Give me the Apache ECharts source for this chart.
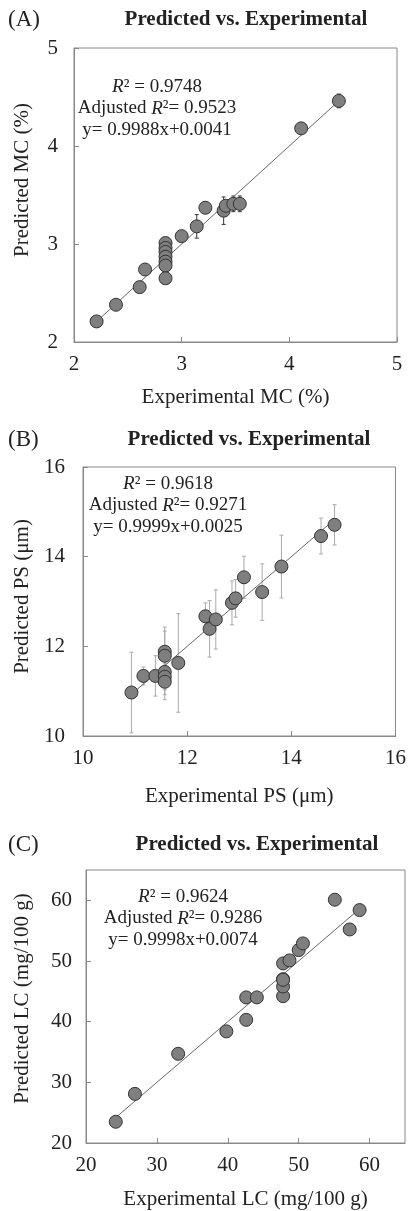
<!DOCTYPE html>
<html>
<head>
<meta charset="utf-8">
<script src="https://cdn.jsdelivr.net/npm/echarts@6/dist/echarts.min.js"></script>
<style>
  html, body { margin: 0; padding: 0; background: #fff; }
  #draw { width: 409px; height: 1211px; }
</style>
</head>
<body>
<div id="draw"></div>
<script>
// (A) moisture content
var mcExp  = [2.21, 2.39, 2.61, 2.66, 2.85, 2.85, 2.85, 2.85, 2.85, 2.85, 2.85, 3.00, 3.14, 3.22, 3.39, 3.41, 3.48, 3.54, 4.11, 4.46];
var mcPred = [2.21, 2.38, 2.56, 2.74, 3.01, 2.96, 2.92, 2.87, 2.82, 2.78, 2.65, 3.08, 3.18, 3.37, 3.34, 3.39, 3.41, 3.41, 4.18, 4.46];
var mcErr  = [0.03, 0.03, 0.02, 0.03, 0.03, 0.03, 0.03, 0.03, 0.03, 0.03, 0.03, 0.04, 0.12, 0.06, 0.14, 0.05, 0.08, 0.08, 0.06, 0.07];
var mcFit  = [[2.2, 2.2], [4.48, 4.48]];
var mcTicks = [2, 3, 4, 5];

// (B) particle size
var psExp  = [10.93, 11.16, 11.39, 11.57, 11.57, 11.57, 11.57, 11.57, 11.83, 12.35, 12.43, 12.55, 12.86, 12.93, 13.09, 13.44, 13.81, 14.57, 14.83];
var psPred = [10.97, 11.34, 11.34, 11.88, 11.79, 11.43, 11.32, 11.21, 11.63, 12.67, 12.39, 12.60, 12.97, 13.07, 13.54, 13.21, 13.78, 14.46, 14.71];
var psErr  = [0.90, 0.20, 0.45, 0.55, 0.55, 0.40, 0.40, 0.40, 1.10, 0.30, 0.63, 0.66, 0.49, 0.42, 0.47, 0.63, 0.70, 0.40, 0.45];
var psFit  = [[10.9, 10.9], [14.85, 14.85]];
var psTicks = [10, 12, 14, 16];

// (C) lycopene content
var lcExp  = [24.2, 26.9, 33.0, 39.8, 42.6, 42.6, 44.1, 47.8, 47.8, 47.8, 47.8, 47.8, 48.7, 50.0, 50.6, 55.1, 57.2, 58.6];
var lcPred = [23.5, 28.1, 34.7, 38.4, 40.3, 44.0, 44.0, 44.2, 45.8, 47.0, 46.9, 49.6, 50.1, 51.8, 52.9, 60.1, 55.2, 58.4];
var lcFit  = [[24.3, 24.3], [58.6, 58.6]];
var lcTicks = [20, 30, 40, 50, 60, 65];

var panelTags = ['(A)', '(B)', '(C)'];
var panelTitle = 'Predicted vs. Experimental';
var xNames = ['Experimental MC (%)', 'Experimental PS (\u03bcm)', 'Experimental LC (mg/100 g)'];
var yNames = ['Predicted MC (%)', 'Predicted PS (\u03bcm)', 'Predicted LC (mg/100 g)'];
var r2 = ['0.9748', '0.9618', '0.9624'];
var adjR2 = ['0.9523', '0.9271', '0.9286'];
var eqs = ['y= 0.9988x+0.0041', 'y= 0.9999x+0.0025', 'y= 0.9998x+0.0074'];

var FONT = '"Liberation Serif", "Times New Roman", serif';
var chart = echarts.init(document.getElementById('draw'));

function pairs(xs, ys) { return xs.map(function (x, i) { return [x, ys[i]]; }); }
function bars(xs, ys, es) { return xs.map(function (x, i) { return [x, ys[i] - es[i], ys[i] + es[i]]; }); }

var grids = [
  { left: 74, width: 323, top: 48, height: 294 },
  { left: 83, width: 316, top: 467, height: 269 },
  { left: 86, width: 319, top: 870, height: 275 }
];
var ranges = [[mcTicks, 1], [psTicks, 2], [lcTicks, 10]];
var nameGapY = [41, 50, 53];
var nameShiftY = [30, 10, 16];
var nameGapX = [45, 50, 46];
var labelMarginY = [16, 18, 14];
var errColor = ['#333', '#aaa'];

function axis(i, isX) {
  var t = ranges[i][0];
  return {
    type: 'value',
    gridIndex: i,
    min: t[0], max: t[t.length - 1], interval: ranges[i][1],
    name: isX ? xNames[i] : yNames[i],
    nameLocation: 'middle',
    nameGap: isX ? nameGapX[i] : nameGapY[i],
    nameTextStyle: {
      fontFamily: FONT, fontSize: 21, color: '#222',
      padding: isX ? 0 : [0, 0, 0, nameShiftY[i]]
    },
    axisLine: { show: true, lineStyle: { color: '#888', width: 1 } },
    axisTick: { show: true, inside: true, length: 5, lineStyle: { color: '#888' } },
    axisLabel: {
      fontFamily: FONT, fontSize: 21, color: '#222',
      margin: isX ? 12 : labelMarginY[i],
      showMaxLabel: i !== 2
    },
    splitLine: { show: false }
  };
}

function errorSeries(i, data, color) {
  return {
    type: 'custom', xAxisIndex: i, yAxisIndex: i, data: data, z: 1,
    encode: { x: 0, y: [1, 2] },
    renderItem: function (params, api) {
      var lo = api.coord([api.value(0), api.value(1)]);
      var hi = api.coord([api.value(0), api.value(2)]);
      var st = { stroke: color, lineWidth: 1 };
      return {
        type: 'group',
        children: [
          { type: 'line', shape: { x1: lo[0], y1: lo[1], x2: hi[0], y2: hi[1] }, style: st },
          { type: 'line', shape: { x1: lo[0] - 2, y1: lo[1], x2: lo[0] + 2, y2: lo[1] }, style: st },
          { type: 'line', shape: { x1: hi[0] - 2, y1: hi[1], x2: hi[0] + 2, y2: hi[1] }, style: st }
        ]
      };
    }
  };
}

function pointSeries(i, data) {
  return {
    type: 'scatter', xAxisIndex: i, yAxisIndex: i, data: data, z: 3,
    symbolSize: 13,
    itemStyle: { color: '#7f7f7f', borderColor: '#333', borderWidth: 1, opacity: 1 }
  };
}

function fitSeries(i, data) {
  return {
    type: 'line', xAxisIndex: i, yAxisIndex: i, data: data, z: 2,
    symbol: 'none', lineStyle: { color: '#666', width: 1 }
  };
}

// text positions: [tagY, titleCx, statsCx, statsY0]
var textPos = [[20, 246, 157, 87], [440, 249, 168, 484], [845, 257, 183, 897]];
var graphic = [];
textPos.forEach(function (p, i) {
  graphic.push({ type: 'text', x: 8, y: p[0],
    style: { text: panelTags[i], font: '23px ' + FONT, fill: '#222', verticalAlign: 'middle' } });
  graphic.push({ type: 'text', x: p[1], y: p[0],
    style: { text: panelTitle, font: 'bold 21px ' + FONT, fill: '#222', align: 'center', verticalAlign: 'middle' } });
  var rich = {
    n: { fontFamily: FONT, fontSize: 19, fill: '#222' },
    i: { fontFamily: FONT, fontSize: 19, fontStyle: 'italic', fill: '#222' }
  };
  var lines = [
    '{i|R}{n|\u00b2 = ' + r2[i] + '}',
    '{n|Adjusted }{i|R}{n|\u00b2= ' + adjR2[i] + '}',
    '{n|' + eqs[i] + '}'
  ];
  lines.forEach(function (s, k) {
    graphic.push({ type: 'text', x: p[2], y: p[3] + k * 21.5,
      style: { text: s, rich: rich, align: 'center', verticalAlign: 'middle' } });
  });
});

var option = {
  animation: false,
  backgroundColor: '#fff',
  grid: grids.map(function (g) {
    return Object.assign({ show: true, borderColor: '#888', borderWidth: 1, backgroundColor: 'transparent' }, g);
  }),
  xAxis: [axis(0, true), axis(1, true), axis(2, true)],
  yAxis: [axis(0, false), axis(1, false), axis(2, false)],
  graphic: graphic,
  series: [
    fitSeries(0, mcFit), errorSeries(0, bars(mcExp, mcPred, mcErr), errColor[0]), pointSeries(0, pairs(mcExp, mcPred)),
    fitSeries(1, psFit), errorSeries(1, bars(psExp, psPred, psErr), errColor[1]), pointSeries(1, pairs(psExp, psPred)),
    fitSeries(2, lcFit), pointSeries(2, pairs(lcExp, lcPred))
  ]
};
chart.setOption(option);
</script>
</body>
</html>
